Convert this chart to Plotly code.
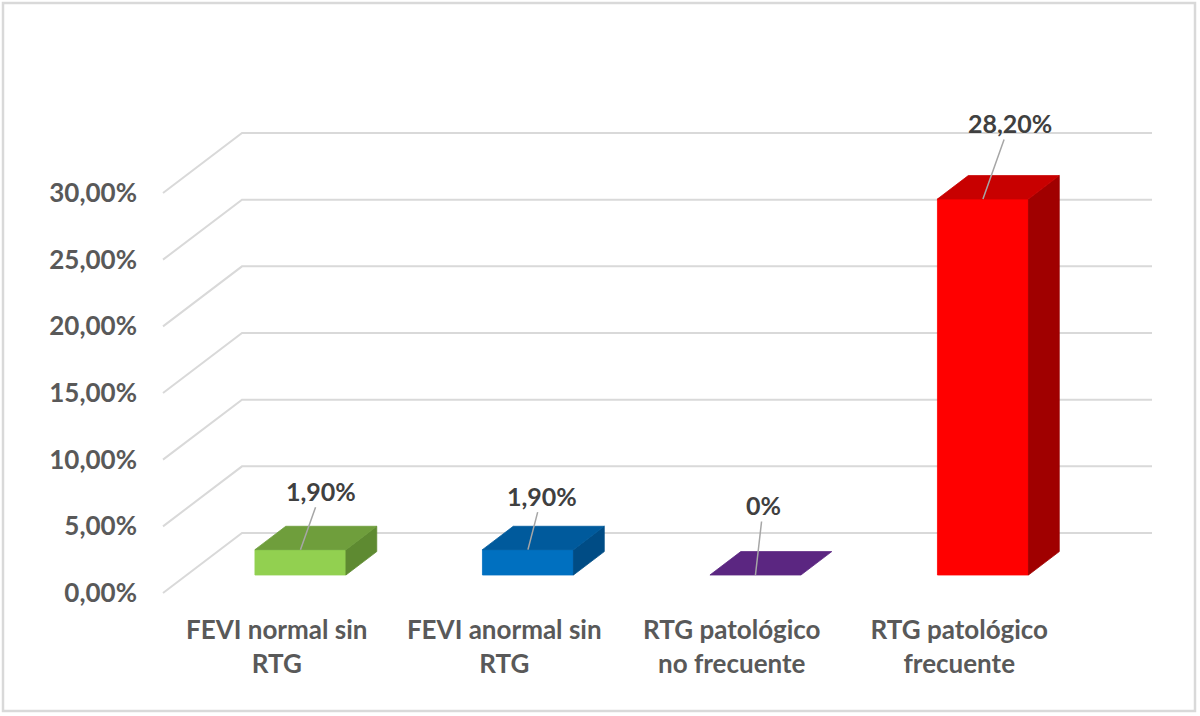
import plotly.graph_objects as go

# ---------------- data ----------------
categories = ["FEVI normal sin<br>RTG", "FEVI anormal sin<br>RTG",
              "RTG patológico<br>no frecuente", "RTG patológico<br>frecuente"]
values = [1.9, 1.9, 0.0, 28.2]
value_labels = ["1,90%", "1,90%", "0%", "28,20%"]
y_ticks = [0, 5, 10, 15, 20, 25, 30]
y_tick_labels = ["0,00%", "5,00%", "10,00%", "15,00%", "20,00%", "25,00%", "30,00%"]

# ---------------- style ----------------
front_colors = ["#92D050", "#0070C0", "#7030A0", "#FF0000"]
top_colors = ["#6F9E3C", "#005A9C", "#5B2681", "#C80000"]
side_colors = ["#5E8A31", "#004C85", "#4A1F6A", "#A00000"]
label_offsets = [(21, -59), (14, -54), (8, -70), (27, -76)]  # pixel offsets of value labels

W, H = 1200, 716
ML, MR, MT, MB = 150, 30, 40, 116
PW, PH = W - ML - MR, H - MT - MB
FRONT_X0_PX = 163.0      # pixel of x=0 (front floor left edge)
BAND_PX = 227.5          # pixels per category
ZERO_Y_PX = 593.0        # pixel of y=0 at the front
PCT_PX = 400.0 / 30.0    # pixels per percent

DX = 79.0 / BAND_PX      # wall depth offset in x units
DY = 60.0 / PCT_PX       # wall depth offset in y units
BAR_W = 0.40
D0, D1 = 0.30, 0.69      # bar depth start/end (fraction of wall depth)

x_range = [(ML - FRONT_X0_PX) / BAND_PX, (ML + PW - FRONT_X0_PX) / BAND_PX]
y_range = [(ZERO_Y_PX - (MT + PH)) / PCT_PX, (ZERO_Y_PX - MT) / PCT_PX]

GRID = "#D9D9D9"
TXT = "#595959"
FONT = "Lato"

fig = go.Figure()
n = len(categories)

# gridlines: side diagonals + back wall lines
for v in y_ticks:
    fig.add_trace(go.Scatter(
        x=[0, DX, n + DX], y=[v, v + DY, v + DY], mode="lines",
        line=dict(color=GRID, width=2), hoverinfo="skip", showlegend=False))

def poly(xs, ys, color):
    fig.add_trace(go.Scatter(
        x=xs + [xs[0]], y=ys + [ys[0]], mode="lines", fill="toself",
        fillcolor=color, line=dict(color=color, width=0.8),
        hoverinfo="skip", showlegend=False))

for i, v in enumerate(values):
    c = i + 0.5
    xl = c - BAR_W / 2 + D0 * DX
    xr = c + BAR_W / 2 + D0 * DX
    yb = D0 * DY
    yt = yb + v
    ddx = (D1 - D0) * DX
    ddy = (D1 - D0) * DY
    if v > 0:
        poly([xl, xr, xr, xl], [yb, yb, yt, yt], front_colors[i])
        poly([xr, xr + ddx, xr + ddx, xr], [yb, yb + ddy, yt + ddy, yt], side_colors[i])
    poly([xl, xr, xr + ddx, xl + ddx], [yt, yt, yt + ddy, yt + ddy], top_colors[i])

annotations = []
for i, v in enumerate(values):
    c = i + 0.5 + D0 * DX
    ax, ay = label_offsets[i]
    annotations.append(dict(
        x=c, y=D0 * DY + v, xref="x", yref="y", text=value_labels[i],
        showarrow=True, arrowhead=0, arrowwidth=1.5, arrowcolor="#A6A6A6",
        ax=ax, ay=ay, standoff=0,
        font=dict(family=FONT, size=25, color="#404040", weight="bold")))

fig.update_layout(
    width=W, height=H,
    margin=dict(l=ML, r=MR, t=MT, b=MB),
    paper_bgcolor="white", plot_bgcolor="white",
    xaxis=dict(range=x_range, tickvals=[i + 0.5 for i in range(n)], ticktext=categories,
               showgrid=False, zeroline=False, showline=False, ticks="",
               tickfont=dict(family=FONT, size=26, color=TXT, weight="bold"),
               ticklabelstandoff=12, fixedrange=True),
    yaxis=dict(range=y_range, tickvals=y_ticks, ticktext=y_tick_labels,
               showgrid=False, zeroline=False, showline=False, ticks="",
               tickfont=dict(family=FONT, size=26, color=TXT, weight="bold"),
               ticklabelstandoff=12, fixedrange=True),
    annotations=annotations,
    shapes=[dict(type="rect", xref="paper", yref="paper",
                 x0=(3 - ML) / PW, x1=(1195 - ML) / PW,
                 y0=(MT + PH - 711) / PH, y1=(MT + PH - 3) / PH,
                 line=dict(color="#D9D9D9", width=2.5), fillcolor="rgba(0,0,0,0)",
                 layer="below")],
)

fig.write_html("out.html", config={"displayModeBar": False},
               post_script="document.body.style.margin='0px';")
